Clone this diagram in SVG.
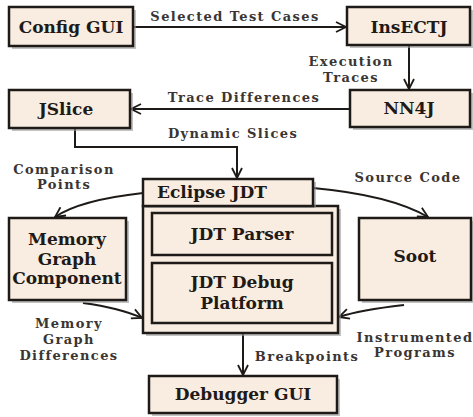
<svg xmlns="http://www.w3.org/2000/svg" width="473" height="417" viewBox="0 0 473 417">
<style>
.box{fill:#f9ede1;stroke:#1e1a17;stroke-width:2.5}
.sh{fill:#9a9a9a;opacity:0.6}
.t{font-family:"DejaVu Serif",serif;font-weight:bold;font-size:17px;fill:#1e1a17;text-anchor:middle}
.l{font-family:"DejaVu Serif",serif;font-weight:bold;font-size:13px;letter-spacing:1.4px;fill:#3a3532;text-anchor:middle}
.c{fill:none;stroke:#1e1a17;stroke-width:2;marker-end:url(#ah)}
</style>
<defs>
<marker id="ah" viewBox="0 0 12 12" refX="11" refY="6" markerWidth="12" markerHeight="12" markerUnits="userSpaceOnUse" orient="auto">
<path d="M1,1 L11,6 L1,11" fill="none" stroke="#1e1a17" stroke-width="1.8"/>
</marker>
</defs>
<rect width="473" height="417" fill="#ffffff"/>
<g id="connectors">
<path class="c" d="M133,27 L346,27"/>
<path class="c" d="M409,45 L409,89"/>
<path class="c" d="M350,109 L131,109"/>
<path class="c" d="M75,128 L75,147 L237,147 L237,178"/>
<path class="c" d="M143,193 Q80,200 55,217"/>
<path class="c" d="M313,188 Q390,195 428,217"/>
<path class="c" d="M83,303 Q120,308 142,318"/>
<path class="c" d="M404,305 Q360,310 339,317"/>
<path class="c" d="M243,333 L243,375"/>
</g>
<g id="labels">
<text class="l" x="235" y="21">Selected Test Cases</text>
<text class="l" x="351" y="66">Execution</text>
<text class="l" x="351" y="82">Traces</text>
<text class="l" x="244" y="102">Trace Differences</text>
<text class="l" x="233" y="138">Dynamic Slices</text>
<text class="l" x="64" y="174">Comparison</text>
<text class="l" x="64" y="189">Points</text>
<text class="l" x="408" y="182">Source Code</text>
<text class="l" x="69" y="328">Memory</text>
<text class="l" x="69" y="344">Graph</text>
<text class="l" x="69" y="360">Differences</text>
<text class="l" x="415" y="342">Instrumented</text>
<text class="l" x="415" y="357">Programs</text>
<text class="l" x="307" y="361">Breakpoints</text>
</g>
<g id="config-gui">
<rect class="sh" x="12" y="10" width="124" height="39"/>
<rect class="box" x="9" y="7" width="124" height="39"/>
<text class="t" x="71" y="33" font-size="18">Config GUI</text>
</g>
<g id="insectj">
<rect class="sh" x="350" y="10" width="123" height="38"/>
<rect class="box" x="347" y="7" width="123" height="38"/>
<text class="t" x="409" y="33">InsECTJ</text>
</g>
<g id="nn4j">
<rect class="sh" x="353" y="93" width="120" height="37"/>
<rect class="box" x="350" y="90" width="120" height="37"/>
<text class="t" x="409" y="114">NN4J</text>
</g>
<g id="jslice">
<rect class="sh" x="12" y="93" width="121" height="38"/>
<rect class="box" x="9" y="90" width="121" height="38"/>
<text class="t" x="66" y="115">JSlice</text>
</g>
<g id="eclipse-jdt">
<rect class="sh" x="146" y="209" width="195" height="127"/>
<rect class="box" x="143" y="206" width="195" height="127"/>
<rect class="sh" x="146" y="182" width="170" height="26"/>
<rect class="box" x="143" y="179" width="170" height="27"/>
<text class="t" x="212" y="198">Eclipse JDT</text>
</g>
<g id="jdt-parser">
<rect class="box" x="152" y="213" width="180" height="42"/>
<text class="t" x="242" y="240">JDT Parser</text>
</g>
<g id="jdt-debug-platform">
<rect class="box" x="152" y="263" width="180" height="60"/>
<text class="t" x="242" y="288">JDT Debug</text>
<text class="t" x="242" y="309">Platform</text>
</g>
<g id="memory-graph-component">
<rect class="sh" x="12" y="221" width="117" height="82"/>
<rect class="box" x="9" y="218" width="117" height="82"/>
<text class="t" x="67" y="245">Memory</text>
<text class="t" x="67" y="265">Graph</text>
<text class="t" x="67" y="284">Component</text>
</g>
<g id="soot">
<rect class="sh" x="362" y="221" width="112" height="82"/>
<rect class="box" x="359" y="218" width="112" height="82"/>
<text class="t" x="415" y="262">Soot</text>
</g>
<g id="debugger-gui">
<rect class="sh" x="152" y="379" width="188" height="37"/>
<rect class="box" x="149" y="376" width="188" height="37"/>
<text class="t" x="243" y="400">Debugger GUI</text>
</g>
</svg>
